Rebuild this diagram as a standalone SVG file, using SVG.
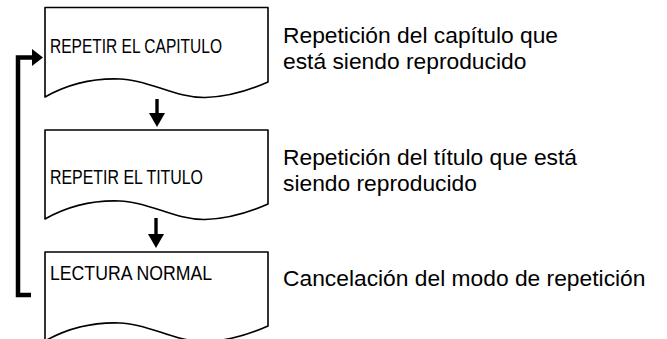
<svg xmlns="http://www.w3.org/2000/svg" width="667" height="339" viewBox="0 0 667 339">
<style>
.box{fill:#fff;stroke:#000;stroke-width:1.6;stroke-linejoin:round}
.lbl{font-family:"Liberation Sans",Arial,sans-serif;font-size:19.5px;fill:#000}
.desc{font-family:"Liberation Sans",Arial,sans-serif;font-size:22.8px;fill:#000}
.conn{fill:none;stroke:#000;stroke-width:4.5;stroke-linejoin:miter}
.shaft{fill:none;stroke:#000;stroke-width:3.4}
.head{fill:#000;stroke:none}
</style>
<rect width="667" height="339" fill="#fff"/>
<g id="node-capitulo">
<path class="box" d="M45,7.5 L268,7.5 L268,82 C250,90 230,97 205,97.5 C175,98 150,80 120,79 C92,78 68,84 45,97 Z"/>
<text class="lbl" x="50" y="53" textLength="172" lengthAdjust="spacingAndGlyphs">REPETIR EL CAPITULO</text>
<text class="desc" x="283" y="43">Repetición del capítulo que</text>
<text class="desc" x="283" y="69">está siendo reproducido</text>
</g>
<g id="node-titulo">
<path class="box" d="M45,130 L268,130 L268,204 C250,212 230,219 205,219.5 C175,220 150,202 120,201 C92,200 68,206 45,219 Z"/>
<text class="lbl" x="50" y="184" textLength="153" lengthAdjust="spacingAndGlyphs">REPETIR EL TITULO</text>
<text class="desc" x="283" y="165">Repetición del título que está</text>
<text class="desc" x="283" y="191">siendo reproducido</text>
</g>
<g id="node-normal">
<path class="box" d="M45,252 L268,252 L268,326 C250,334 230,341 205,341.5 C175,342 150,324 120,323 C92,322 68,328 45,341 Z"/>
<text class="lbl" x="50" y="280" textLength="162" lengthAdjust="spacingAndGlyphs">LECTURA NORMAL</text>
<text class="desc" x="283" y="286">Cancelación del modo de repetición</text>
</g>
<g id="connectors">
<line class="shaft" x1="157" y1="99" x2="157" y2="114"/>
<polygon class="head" points="149,113 165,113 157,127"/>
<line class="shaft" x1="156" y1="218" x2="156" y2="235"/>
<polygon class="head" points="148,234 164,234 156,248"/>
<polyline class="conn" points="31,295 18,295 18,57.5 33,57.5"/>
<polygon class="head" points="32,49 32,66 43,57.5"/>
</g>
</svg>
